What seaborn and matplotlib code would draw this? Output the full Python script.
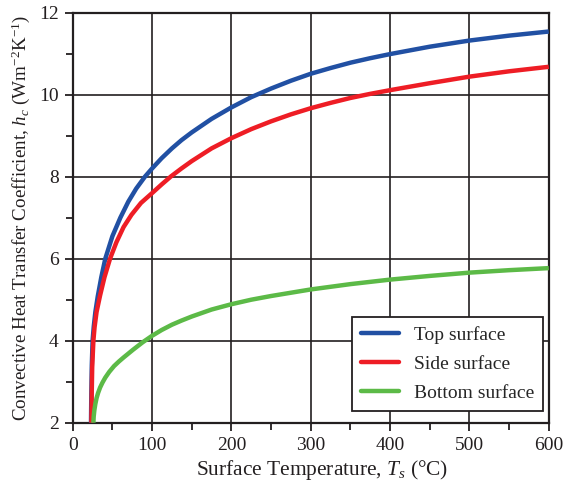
import numpy as np
import pandas as pd
import matplotlib
matplotlib.use("Agg")
import matplotlib.pyplot as plt
from matplotlib.ticker import MultipleLocator
import seaborn as sns

# ---- data ----
top_x = [23, 23.4, 24, 25, 26.5, 28.5, 31.5, 36, 41, 50, 60, 70, 80, 91, 100, 112, 125,
         137, 150, 175, 200, 225, 250, 275, 300, 325, 350, 375, 400, 450, 500, 550, 600]
top_y = [2, 2.7, 3.4, 4.0, 4.35, 4.7, 5.08, 5.55, 6.0, 6.55, 7.0, 7.39, 7.71, 8.0, 8.2, 8.45, 8.69,
         8.89, 9.08, 9.41, 9.69, 9.94, 10.15, 10.34, 10.51, 10.65, 10.78, 10.89, 10.99, 11.17, 11.32, 11.44, 11.54]

side_x = [23.5, 23.9, 24.5, 26, 27.5, 30, 34.4, 40, 47, 55, 64, 74, 86, 100, 112, 124, 137,
          150, 175, 200, 225, 250, 275, 300, 325, 350, 375, 400, 450, 500, 550, 600]
side_y = [2, 2.7, 3.35, 4.0, 4.33, 4.7, 5.1, 5.55, 6.0, 6.4, 6.77, 7.07, 7.36, 7.6, 7.81, 8.01, 8.2,
          8.38, 8.69, 8.94, 9.16, 9.35, 9.52, 9.67, 9.8, 9.92, 10.02, 10.11, 10.28, 10.44, 10.57, 10.68]

bottom_x = [26, 26.4, 27.2, 28.4, 30, 32, 34.5, 37.5, 41, 46, 52, 58, 64, 76, 88, 100, 112, 125, 137, 150,
            175, 200, 225, 250, 275, 300, 350, 400, 450, 500, 550, 600]
bottom_y = [2.0, 2.15, 2.3, 2.45, 2.6, 2.73, 2.86, 2.98, 3.1, 3.24, 3.38, 3.49, 3.59, 3.78, 3.96, 4.12, 4.26, 4.39, 4.49, 4.59,
            4.76, 4.89, 5.0, 5.09, 5.17, 5.25, 5.38, 5.49, 5.58, 5.66, 5.72, 5.77]

labels = ["Top surface", "Side surface", "Bottom surface"]
colors = ["#2150A3", "#EE1D25", "#5CBA47"]

frames = []
for lab, xs, ys in zip(labels, [top_x, side_x, bottom_x], [top_y, side_y, bottom_y]):
    frames.append(pd.DataFrame({"T": xs, "h": ys, "surface": lab}))
df = pd.concat(frames, ignore_index=True)

sns.set_style("ticks")
plt.rcParams["font.family"] = ["Liberation Serif", "DejaVu Serif"]
plt.rcParams["mathtext.fontset"] = "custom"
plt.rcParams["mathtext.rm"] = "Liberation Serif"
plt.rcParams["mathtext.it"] = "Liberation Serif:italic"

fig = plt.figure(figsize=(5.64, 4.87), dpi=100)
ax = fig.add_axes([0.129, 0.132, 0.844, 0.842])

sns.lineplot(data=df, x="T", y="h", hue="surface", hue_order=labels,
             palette=colors, estimator=None, sort=False,
             linewidth=3.2, ax=ax, zorder=3)
for ln in ax.lines:
    ln.set_solid_joinstyle("round")
    ln.set_solid_capstyle("butt")

ax.set_xlim(0, 600)
ax.set_ylim(2, 12)
ax.xaxis.set_major_locator(MultipleLocator(100))
ax.xaxis.set_minor_locator(MultipleLocator(50))
ax.yaxis.set_major_locator(MultipleLocator(2))
ax.yaxis.set_minor_locator(MultipleLocator(1))
ax.grid(which="major", color="#231F20", linewidth=1.2, zorder=1)
ax.set_axisbelow(True)

for s in ax.spines.values():
    s.set_linewidth(1.6)
    s.set_color("#231F20")
    s.set_visible(True)

ax.tick_params(which="major", direction="out", length=6, width=1.3, color="#231F20",
               labelsize=14, labelcolor="#231F20", pad=4)
ax.tick_params(which="minor", direction="out", length=5, width=1.3, color="#231F20")

ax.set_xlabel(r"Surface Temperature, $T_s$ (°C)", fontsize=15.4, color="#231F20", labelpad=1)
ax.xaxis.set_label_coords(0.524, -0.085)
ax.set_ylabel(r"Convective Heat Transfer Coefficient, $h_c$ (Wm$^{\mathregular{-2}}$K$^{\mathregular{-1}}$)",
              fontsize=13.7, color="#231F20", labelpad=5)

leg = ax.legend(loc="lower right", bbox_to_anchor=(0.988, 0.0285), borderaxespad=0,
                fontsize=14, frameon=True, fancybox=False, edgecolor="#231F20", framealpha=1,
                handlelength=1.95, handletextpad=0.8, borderpad=0.45, labelspacing=0.6)
leg.get_frame().set_linewidth(1.3)
for line in leg.get_lines():
    line.set_linewidth(3.2)
    line.set_solid_capstyle("round")

fig.savefig("out.png", dpi=100)
